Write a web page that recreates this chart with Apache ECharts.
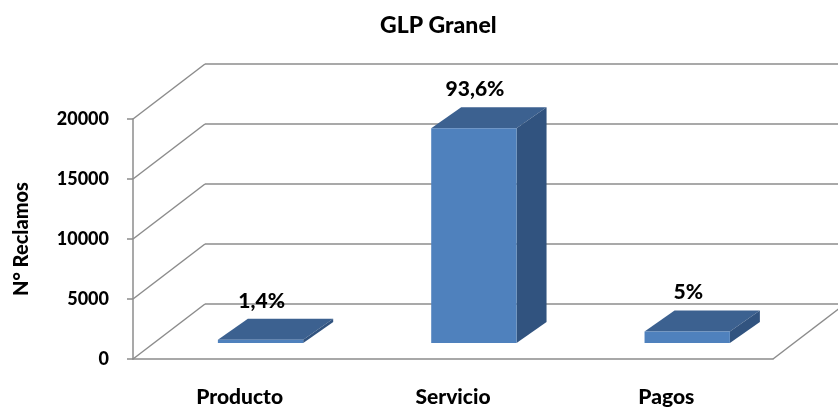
<!DOCTYPE html>
<html>
<head>
<meta charset="utf-8">
<script src="https://cdn.jsdelivr.net/npm/echarts@6/dist/echarts.min.js"></script>
<style>
  html, body { margin: 0; padding: 0; background: #fff; }
  #chartContainer { width: 838px; height: 413px; }
</style>
</head>
<body>
<div id="chartContainer"></div>
<script>
var CATEGORIES = ['Producto', 'Servicio', 'Pagos'];
var RECLAMOS = [268, 17900, 956];
var PCT_LABELS = ['1,4%', '93,6%', '5%'];
var Y_TICKS = [0, 5000, 10000, 15000, 20000];

var FONT = 'Lato';
var WEIGHT = 900;
var LINE_COLOR = '#8c8c8c';
var FRONT = '#4f81bd';
var TOP = '#3c6190';
var SIDE = '#31537f';
// depth of the floor / side wall in pixels
var DEPTH_X = 72, DEPTH_Y = 55;

function renderWall(params, api) {
  var cs = params.coordSys;
  var y = api.coord([0, api.value(1)])[1];
  var children = [{
    type: 'line',
    shape: { x1: cs.x, y1: y, x2: cs.x + DEPTH_X, y2: y - DEPTH_Y },
    style: { stroke: LINE_COLOR, lineWidth: 1.5 }
  }];
  if (params.dataIndex === 0) {
    // right edge of the floor
    var xr = cs.x + cs.width;
    children.push({
      type: 'line',
      shape: { x1: xr, y1: y, x2: xr + DEPTH_X, y2: y - DEPTH_Y },
      style: { stroke: LINE_COLOR, lineWidth: 1.5 }
    });
  }
  return { type: 'group', children: children };
}

function renderBar(params, api) {
  var i = params.dataIndex;
  var base = api.coord([i, 0]);
  var top = api.coord([i, api.value(1)]);
  var band = api.size([1, 0])[0];
  var w = band * 0.4;
  var ox = DEPTH_X * 0.29, oy = DEPTH_Y * 0.29;
  var bx = 30, by = 21;
  var x0 = base[0] - w / 2 + ox, x1 = x0 + w;
  var yb = base[1] - oy, yt = top[1] - oy;
  return {
    type: 'group',
    children: [
      { type: 'polygon', shape: { points: [[x0, yt], [x1, yt], [x1 + bx, yt - by], [x0 + bx, yt - by]] }, style: { fill: TOP } },
      { type: 'polygon', shape: { points: [[x1, yt], [x1 + bx, yt - by], [x1 + bx, yb - by], [x1, yb]] }, style: { fill: SIDE } },
      { type: 'rect', shape: { x: x0, y: yt, width: w, height: yb - yt }, style: { fill: FRONT } },
      {
        type: 'text', x: base[0] + 22, y: yt - by - 18,
        style: {
          text: PCT_LABELS[i], fill: '#000', font: WEIGHT + ' 21px ' + FONT,
          textAlign: 'center', textVerticalAlign: 'middle'
        }
      }
    ]
  };
}

var CHART = echarts.init(document.getElementById('chartContainer'), null, { renderer: 'canvas' });

var CHART_OPTION = {
  animation: false,
  backgroundColor: '#fff',
  title: {
    text: 'GLP Granel',
    left: 375,
    top: 9,
    textStyle: { fontFamily: FONT, fontWeight: WEIGHT, fontSize: 23, color: '#000' }
  },
  grid: [
    { left: 133, top: 119, width: 640, height: 240 },
    { left: 205, top: 64, right: 0, height: 240 }
  ],
  xAxis: [
    {
      gridIndex: 0,
      type: 'category',
      data: CATEGORIES,
      axisLine: { show: true, lineStyle: { color: LINE_COLOR, width: 1.5 } },
      axisTick: { show: false },
      axisLabel: { margin: 28, color: '#000', fontFamily: FONT, fontWeight: WEIGHT, fontSize: 21 }
    },
    { gridIndex: 1, type: 'value', show: false }
  ],
  yAxis: [
    {
      gridIndex: 0,
      type: 'value',
      min: 0,
      max: 20000,
      interval: 5000,
      name: 'N° Reclamos',
      nameLocation: 'middle',
      nameRotate: 90,
      nameGap: 101,
      nameTextStyle: { fontFamily: FONT, fontWeight: WEIGHT, fontSize: 20, color: '#000' },
      axisLine: { show: true, lineStyle: { color: LINE_COLOR, width: 1.5 } },
      axisTick: { show: true, length: 6, lineStyle: { color: LINE_COLOR, width: 1.5 } },
      axisLabel: {
        margin: 24, color: '#000', fontFamily: FONT, fontWeight: WEIGHT, fontSize: 18,
        formatter: function (v) { return String(v); }
      },
      splitLine: { show: false }
    },
    {
      gridIndex: 1,
      type: 'value',
      min: 0,
      max: 20000,
      interval: 5000,
      axisLine: { show: false },
      axisTick: { show: false },
      axisLabel: { show: false },
      splitLine: { show: true, lineStyle: { color: LINE_COLOR, width: 1.5 } }
    }
  ],
  series: [
    {
      name: 'wall',
      type: 'custom',
      xAxisIndex: 0,
      yAxisIndex: 0,
      renderItem: renderWall,
      encode: { x: 0, y: 1 },
      data: Y_TICKS.map(function (v) { return [0, v]; }),
      silent: true,
      z: 1
    },
    {
      name: 'Reclamos',
      type: 'custom',
      xAxisIndex: 0,
      yAxisIndex: 0,
      renderItem: renderBar,
      encode: { x: 0, y: 1 },
      data: RECLAMOS.map(function (v, i) { return [i, v]; }),
      z: 5
    }
  ]
};

CHART.setOption(CHART_OPTION);
</script>
</body>
</html>
